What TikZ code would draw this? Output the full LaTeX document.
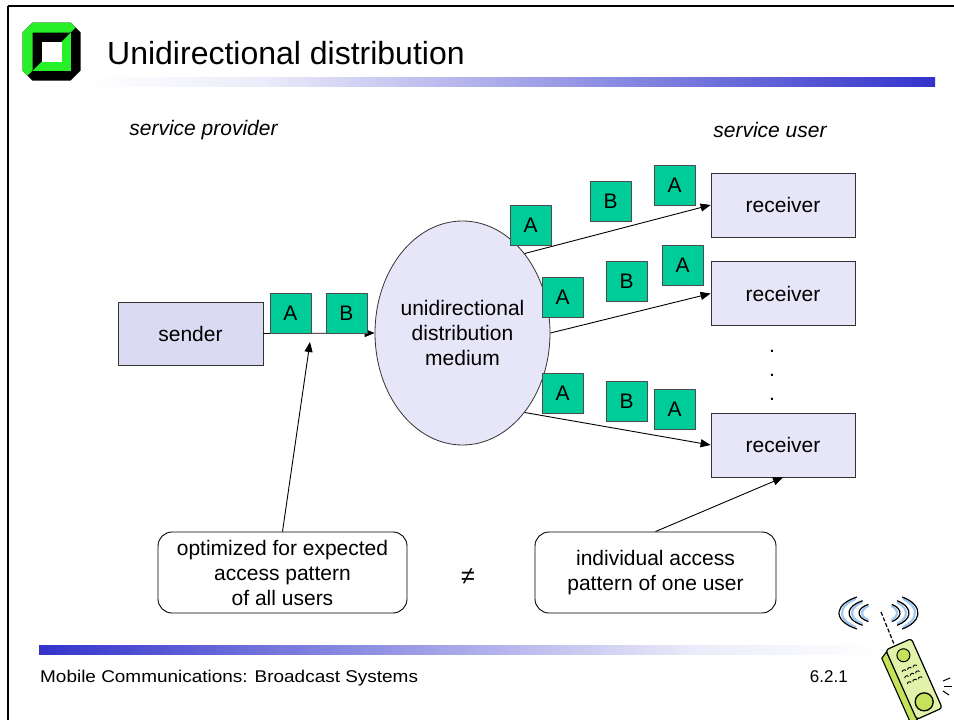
\documentclass[tikz,border=0pt]{standalone}
\usepackage{fontspec}
\setmainfont{Liberation Sans}
\usetikzlibrary{shapes.geometric,arrows.meta}
\definecolor{kitblue}{RGB}{51,51,204}
\definecolor{barlight}{RGB}{236,236,250}
\definecolor{pktgreen}{RGB}{0,204,153}
\definecolor{boxfill}{RGB}{230,230,248}
\definecolor{sendfill}{RGB}{218,218,242}
\definecolor{logogreen}{RGB}{40,240,40}
\definecolor{wave}{RGB}{160,200,240}
\definecolor{phoneface}{RGB}{226,242,170}
\definecolor{phoneside}{RGB}{196,226,90}
\begin{document}
\begin{tikzpicture}[x=1pt,y=-1pt,
  txt/.style={font=\fontsize{21}{25}\selectfont},
  block/.style={draw=black!80, line width=0.8pt, txt, inner sep=0pt},
  rcv/.style={block, fill=boxfill, minimum width=144pt, minimum height=64pt},
  pkt/.style={draw=black!70, fill=pktgreen, minimum width=41pt, minimum height=40pt, inner sep=0pt, txt, line width=0.8pt},
  flow/.style={line width=0.9pt, -{Triangle[length=10pt,width=8pt]}},
  note/.style={draw, rounded corners=14pt, line width=0.9pt, minimum height=81pt, align=center, txt, inner sep=0pt},
  dotmark/.style={txt, anchor=base, inner sep=0pt}
]
\useasboundingbox (0,0) rectangle (954,720);

% slide frame
\draw[line width=2.5pt] (8,6) -- (954,6);
\draw[line width=2.5pt] (8,6) -- (8,720);

% university logo
\begin{scope}[shift={(51.5,51.5)}]
  \fill[black] (-19,-29) -- (19,-29) -- (29,-19) -- (29,19) -- (19,29) -- (-19,29) -- (-29,19) -- (-29,-19) -- cycle;
  \fill[logogreen] (24,-24) -- (19,-29) -- (-19,-29) -- (-29,-19) -- (-29,19) -- (-24,24) -- cycle;
  \fill[logogreen] (-19,-19) rectangle (19,19);
  \fill[black] (-19,-19) -- (19,-19) -- (-19,19) -- cycle;
  \fill[white] (-10,-10) rectangle (10,10);
\end{scope}

% title and header bar
\node[anchor=base west, inner sep=0pt, font=\fontsize{32}{36}\selectfont] (title) at (107,64) {Unidirectional distribution};
\shade[left color=white, right color=barlight] (88,77) rectangle (260,86);
\shade[left color=barlight, right color=kitblue] (260,77) rectangle (935,86);

% footer bar and texts
\shade[left color=kitblue, right color=barlight] (39,645) rectangle (700,654);
\shade[left color=barlight, right color=white] (700,645) rectangle (880,654);
\node[anchor=base west, inner sep=0pt, font=\fontsize{17}{20}\selectfont] (footer) at (40,682) {\scalebox{1.115}[1]{Mobile Communications: Broadcast Systems}};
\node[anchor=base east, inner sep=0pt, font=\fontsize{17}{20}\selectfont] (pagenum) at (848,682) {6.2.1};

% role captions
\node[txt, font=\fontsize{21}{25}\selectfont\itshape] (provider) at (203.5,130) {service provider};
\node[txt, font=\fontsize{21}{25}\selectfont\itshape] (user) at (770,130) {service user};

% main blocks
\node[block, fill=sendfill, minimum width=145pt, minimum height=63pt] (sender) at (190.5,333.5) {sender};
\node[block, ellipse, fill=boxfill, minimum width=161pt, minimum height=224pt, align=center] (medium) at (462.5,333) {unidirectional\\distribution\\medium};
\node[rcv] (rec1) at (783,205) {receiver};
\node[rcv] (rec2) at (783,293.5) {receiver};
\node[rcv] (rec3) at (783,445) {receiver};
\node[dotmark] (dot1) at (772,352) {.};
\node[dotmark] (dot2) at (772,376) {.};
\node[dotmark] (dot3) at (772,400) {.};

% notes
\node[note, minimum width=249pt] (note1) at (282.5,572.5) {optimized for expected\\access pattern\\of all users};
\node[note, minimum width=241pt] (note2) at (655.5,572.5) {individual access\\pattern of one user};
\node[font=\fontsize{25}{28}\selectfont] (neq) at (468,577) {≠};

% connectors
\draw[flow] (sender.east) -- (medium.west);
\draw[flow] (medium.north east) -- (rec1.west);
\draw[flow] (medium.east) -- (rec2.west);
\draw[flow] (medium.south east) -- (rec3.west);
\coordinate (aim) at (310,342);
\draw[flow] (note1.north) -- (aim);
\draw[flow] (note2.north) -- (rec3.south);

% packets
\node[pkt] (s1) at (290.5,313) {A};
\node[pkt] (s2) at (346.5,313) {B};
\node[pkt] (u1) at (530.5,225) {A};
\node[pkt] (u2) at (610.5,201) {B};
\node[pkt] (u3) at (674.5,185) {A};
\node[pkt] (m1) at (562.5,297) {A};
\node[pkt] (m2) at (626.5,281) {B};
\node[pkt] (m3) at (682.5,265.5) {A};
\node[pkt] (l1) at (562.5,393) {A};
\node[pkt] (l2) at (626.5,401) {B};
\node[pkt] (l3) at (674.5,409) {A};

% mobile phone sketch: radio waves, antenna, handset
\begin{scope}[shift={(881,613)}]
  \foreach \r in {1,2,3} {
    \draw[wave, line width=2.2pt] (180-50:{9+10*\r} and {5+4.5*\r}) arc (180-50:180+50:{9+10*\r} and {5+4.5*\r});
    \draw[black, line width=1.2pt] (180-55:{12+10*\r} and {6+4.5*\r}) arc (180-55:180+55:{12+10*\r} and {6+4.5*\r});
    \draw[wave, line width=2.2pt] (-50:{7+9*\r} and {5+4.5*\r}) arc (-50:50:{7+9*\r} and {5+4.5*\r});
    \draw[black, line width=1.2pt] (-55:{10+9*\r} and {6+4.5*\r}) arc (-55:55:{10+9*\r} and {6+4.5*\r});
  }
\end{scope}
\draw[line width=1.2pt, dash pattern=on 4pt off 2pt] (881,612) -- (894,644);
\begin{scope}[shift={(914,679)}, rotate=24]
  \filldraw[fill=phoneside, line width=1.1pt] (-14,-36) -- (-21,-32) -- (-21,40) -- (-13,38) -- cycle;
  \filldraw[fill=phoneface, line width=1.2pt, rounded corners=3pt] (-14,-38) rectangle (14,38);
  \filldraw[fill=phoneside, line width=1pt] (0,-26) circle (6.5);
  \filldraw[fill=phoneside, line width=1.3pt] (0,25) circle (9);
  \foreach \i in {-1,0,1} \foreach \j in {0,1,2}
    \draw[line width=0.9pt] ({\i*6+2},{-11+\j*6.5}) arc (0:-180:2 and 1.5);
\end{scope}
\draw[line width=1pt] (943,681) -- (950,678);
\draw[line width=1pt] (944,686) -- (952,686);
\draw[line width=1pt] (943,691) -- (949,695);
\end{tikzpicture}
\end{document}
